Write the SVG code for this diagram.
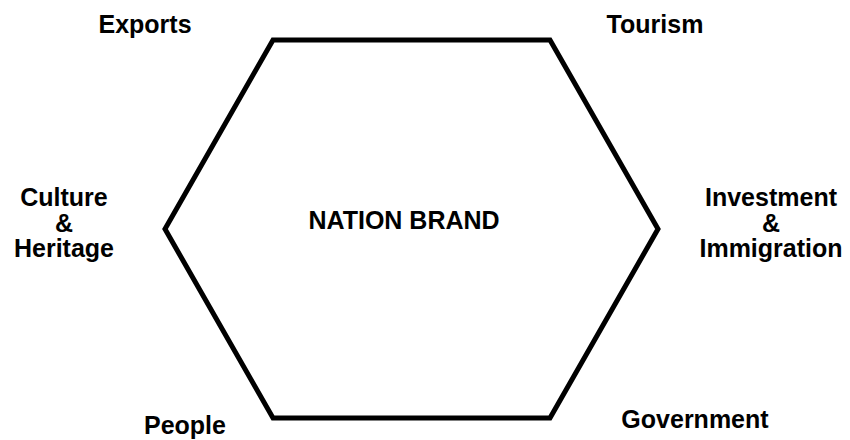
<svg xmlns="http://www.w3.org/2000/svg" width="850" height="440" viewBox="0 0 850 440">
<style>
text{font-family:"Liberation Sans",Arial,sans-serif;font-weight:bold;font-size:25px;fill:#000;text-anchor:middle}
.hex{fill:none;stroke:#000;stroke-width:5;stroke-linejoin:miter}
</style>
<rect width="850" height="440" fill="#fff"/>
<g id="hexagon">
<polygon class="hex" points="273,40 550,40 658,229 550,418 273,418 165,229"/>
<text x="404" y="229">NATION BRAND</text>
</g>
<g id="exports"><text x="145" y="33">Exports</text></g>
<g id="tourism"><text x="655" y="33">Tourism</text></g>
<g id="culture"><text x="64" y="206">Culture</text><text x="64" y="232">&amp;</text><text x="64" y="257">Heritage</text></g>
<g id="investment"><text x="771" y="206">Investment</text><text x="771" y="232">&amp;</text><text x="771" y="257">Immigration</text></g>
<g id="people"><text x="185" y="434">People</text></g>
<g id="government"><text x="695" y="428">Government</text></g>
<g id="connectors"></g>
</svg>
